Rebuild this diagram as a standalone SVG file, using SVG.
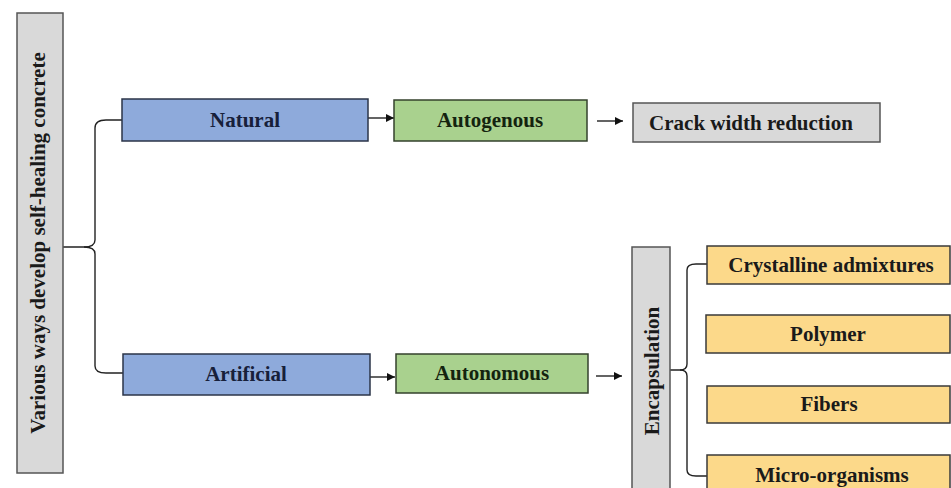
<svg xmlns="http://www.w3.org/2000/svg" width="951" height="488" viewBox="0 0 951 488">
<defs>
<style>
.t{font-family:"Liberation Serif","Times New Roman",serif;font-weight:bold;font-size:21px;text-anchor:middle;fill:#1a1a1a}
.blue{fill:#8eaadb;stroke:#2b3548;stroke-width:1.5}
.green{fill:#a9d18e;stroke:#34412c;stroke-width:1.5}
.gray{fill:#d9d9d9;stroke:#555;stroke-width:1.5}
.yel{fill:#fcd98a;stroke:#3a3a3a;stroke-width:1.5}
.c{fill:none;stroke:#222;stroke-width:1.4}
</style>
<marker id="ah" viewBox="0 0 10 10" refX="10" refY="5" markerWidth="8" markerHeight="8" markerUnits="userSpaceOnUse" orient="auto">
<path d="M0,0 L10,5 L0,10 z" fill="#111"/>
</marker>
</defs>
<rect width="951" height="488" fill="#fff"/>
<g id="connectors">
<path class="c" d="M63,247 H84 Q95,247 95,240 V128 Q95,120 106,120 H122"/>
<path class="c" d="M84,247 Q95,247 95,254 V366 Q95,373 106,373 H123"/>
<path class="c" d="M368,118 H394" marker-end="url(#ah)"/>
<path class="c" d="M597,121 H623" marker-end="url(#ah)"/>
<path class="c" d="M370,377 H395" marker-end="url(#ah)"/>
<path class="c" d="M596,376 H622" marker-end="url(#ah)"/>
<path class="c" d="M670,370 H680 Q687,370 687,364 V270 Q687,264 696,264 H707"/>
<path class="c" d="M680,370 Q687,370 687,376 V470 Q687,476 696,476 H707"/>
</g>
<g id="root">
<rect class="gray" x="17" y="13" width="46" height="460"/>
<text class="t" transform="translate(45,243) rotate(-90)">Various ways develop self-healing concrete</text>
</g>
<g id="natural">
<rect class="blue" x="122" y="99" width="246" height="42"/>
<text class="t" x="245" y="127" fill="#17203a" style="fill:#17203a">Natural</text>
</g>
<g id="autogenous">
<rect class="green" x="394" y="100" width="193" height="41"/>
<text class="t" x="490" y="127" style="fill:#14230f">Autogenous</text>
</g>
<g id="crack">
<rect class="gray" x="633" y="103" width="247" height="39"/>
<text class="t" x="751" y="130">Crack width reduction</text>
</g>
<g id="artificial">
<rect class="blue" x="123" y="354" width="247" height="41"/>
<text class="t" x="246" y="381" style="fill:#17203a">Artificial</text>
</g>
<g id="autonomous">
<rect class="green" x="396" y="354" width="192" height="39"/>
<text class="t" x="492" y="380" style="fill:#14230f">Autonomous</text>
</g>
<g id="encapsulation">
<rect class="gray" x="632" y="247" width="38" height="250"/>
<text class="t" transform="translate(659,371) rotate(-90)">Encapsulation</text>
</g>
<g id="crystalline">
<rect class="yel" x="707" y="246" width="243" height="38"/>
<text class="t" x="831" y="272">Crystalline admixtures</text>
</g>
<g id="polymer">
<rect class="yel" x="706" y="315" width="244" height="38"/>
<text class="t" x="828" y="341">Polymer</text>
</g>
<g id="fibers">
<rect class="yel" x="707" y="386" width="243" height="37"/>
<text class="t" x="829" y="411">Fibers</text>
</g>
<g id="micro">
<rect class="yel" x="707" y="455" width="243" height="40"/>
<text class="t" x="832" y="482">Micro-organisms</text>
</g>
</svg>
